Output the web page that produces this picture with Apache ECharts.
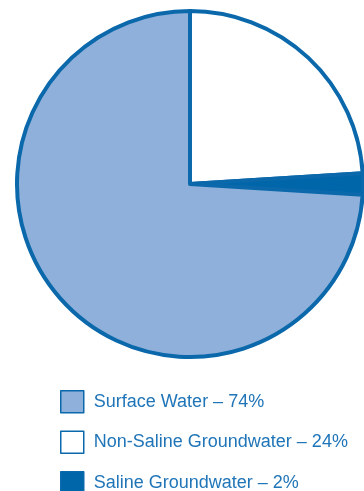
<!DOCTYPE html>
<html>
<head>
<meta charset="utf-8">
<style>
  html, body { margin: 0; padding: 0; background: #ffffff; }
  #chart { width: 364px; height: 491px; }
</style>
<script src="https://cdn.jsdelivr.net/npm/echarts@6/dist/echarts.min.js"></script>
</head>
<body>
<div id="chart"></div>
<script>
// Slices are listed clockwise from 12 o'clock.
const sliceNames = ['Non-Saline Groundwater', 'Saline Groundwater', 'Surface Water'];
const sliceValues = [24, 2, 74];
const sliceColors = ['#ffffff', '#0066aa', '#8fb0da'];
// Legend runs in its own order.
const legendOrder = ['Surface Water', 'Non-Saline Groundwater', 'Saline Groundwater'];

const edgeBlue = '#0a68ab';
const textBlue = '#2075b8';

const chart = echarts.init(document.getElementById('chart'), null, { renderer: 'canvas' });

chart.setOption({
  animation: false,
  legend: {
    data: legendOrder,
    orient: 'vertical',
    left: 60,
    top: 390,
    height: 120,
    padding: 0,
    itemWidth: 23,
    itemHeight: 22,
    itemGap: 17,
    icon: 'rect',
    itemStyle: { borderColor: edgeBlue, borderWidth: 1.5 },
    selectedMode: false,
    formatter: function (name) {
      const i = sliceNames.indexOf(name);
      return name + ' \u2013 ' + sliceValues[i] + '%';
    },
    textStyle: {
      color: textBlue,
      fontSize: 18,
      fontFamily: 'Liberation Sans, Arial, sans-serif',
      padding: [0, 0, 0, 5]
    }
  },
  series: [{
    type: 'pie',
    center: [190, 184],
    radius: [0, 173],
    startAngle: 90,
    clockwise: true,
    label: { show: false },
    labelLine: { show: false },
    emphasis: { disabled: true },
    itemStyle: { borderColor: edgeBlue, borderWidth: 4 },
    data: sliceNames.map(function (n, i) {
      return { name: n, value: sliceValues[i], itemStyle: { color: sliceColors[i] } };
    })
  }]
});
</script>
</body>
</html>
